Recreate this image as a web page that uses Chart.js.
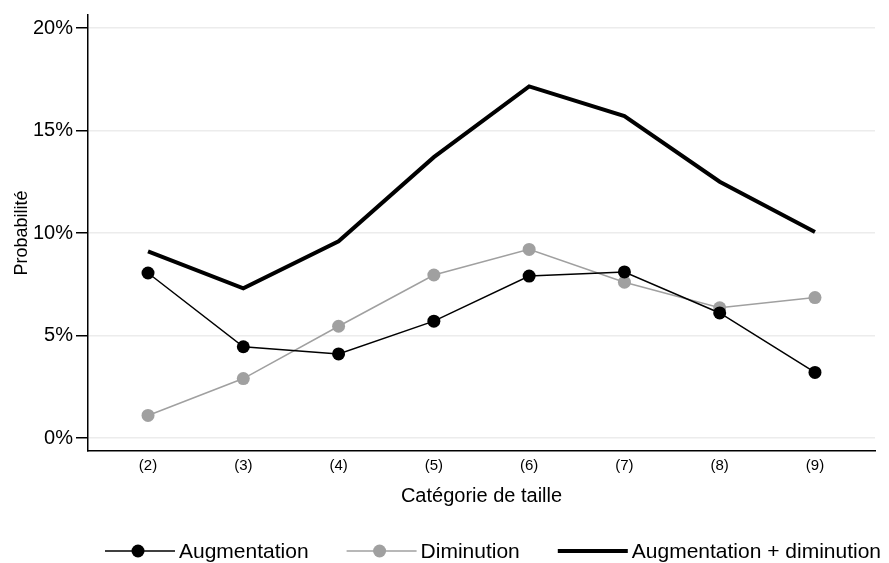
<!DOCTYPE html>
<html>
<head>
<meta charset="utf-8">
<script src="https://cdn.jsdelivr.net/npm/chart.js@4"></script>
<style>
  html, body { margin: 0; padding: 0; background: #fff; }
  #wrap { width: 889px; height: 563px; }
</style>
</head>
<body>
<div id="wrap"><canvas id="chart" width="889" height="563"></canvas></div>
<script>
// size categories (2)..(9)
const categories = [2, 3, 4, 5, 6, 7, 8, 9];
const yTicks = [0, 5, 10, 15, 20];

// probabilities in %
const augmentation = [8.05, 4.45, 4.1, 5.7, 7.9, 8.1, 6.1, 3.2];
const diminution   = [1.1, 2.9, 5.45, 7.95, 9.2, 7.6, 6.35, 6.85];
const total        = [9.1, 7.3, 9.6, 13.7, 17.15, 15.7, 12.5, 10.05];

const FONT = "'Liberation Sans', Arial, sans-serif";

const pts = arr => arr.map((v, i) => ({ x: categories[i], y: v }));

// legend: short line with a dot, then the label
const lineLegend = {
    id: 'lineLegend',
    afterDraw(chart) {
        const ctx = chart.ctx;
        const y = 551;
        let x = 105;
        ctx.save();
        ctx.font = '21px ' + FONT;
        ctx.textBaseline = 'middle';
        chart.data.datasets.forEach(ds => {
            ctx.strokeStyle = ds.borderColor;
            ctx.lineWidth = ds.borderWidth;
            ctx.beginPath();
            ctx.moveTo(x, y);
            ctx.lineTo(x + 70, y);
            ctx.stroke();
            if (ds.pointRadius > 0) {
                ctx.fillStyle = ds.pointBackgroundColor;
                ctx.beginPath();
                ctx.arc(x + 33, y, ds.pointRadius, 0, Math.PI * 2);
                ctx.fill();
            }
            ctx.fillStyle = '#000';
            ctx.fillText(ds.label, x + 74, y + 1);
            x += 74 + ctx.measureText(ds.label).width + 38;
        });
        ctx.restore();
    }
};

new Chart(document.getElementById('chart'), {
    type: 'line',
    data: {
        datasets: [
            {
                label: 'Augmentation',
                data: pts(augmentation),
                borderColor: '#000',
                borderWidth: 1.5,
                pointRadius: 6.5,
                pointBackgroundColor: '#000',
                pointBorderWidth: 0
            },
            {
                label: 'Diminution',
                data: pts(diminution),
                borderColor: '#a0a0a0',
                borderWidth: 1.5,
                pointRadius: 6.5,
                pointBackgroundColor: '#a0a0a0',
                pointBorderWidth: 0
            },
            {
                label: 'Augmentation + diminution',
                data: pts(total),
                borderColor: '#000',
                borderWidth: 4,
                pointRadius: 0
            }
        ]
    },
    options: {
        responsive: false,
        animation: false,
        layout: { padding: { top: 15, right: 14, bottom: 42, left: 0 } },
        plugins: { legend: { display: false }, tooltip: { enabled: false } },
        scales: {
            x: {
                type: 'linear',
                min: 1.37,
                max: 9.63,
                afterBuildTicks: s => { s.ticks = categories.map(v => ({ value: v })); },
                afterFit: s => { s.height = 70; },
                grid: { display: false, drawTicks: false, tickLength: 0 },
                border: { display: true, color: '#000', width: 1.5 },
                ticks: {
                    color: '#000',
                    font: { family: FONT, size: 15 },
                    padding: 6,
                    maxRotation: 0,
                    callback: v => '(' + v + ')'
                },
                title: {
                    display: true,
                    text: 'Catégorie de taille',
                    color: '#000',
                    font: { family: FONT, size: 20 },
                    padding: { top: 4, bottom: 13 }
                }
            },
            y: {
                min: -0.634,
                max: 20.634,
                afterBuildTicks: s => { s.ticks = yTicks.map(v => ({ value: v })); },
                afterFit: s => { s.width = 88; },
                grid: { color: '#ececec', lineWidth: 1.5, tickColor: '#000', tickLength: 12 },
                border: { display: true, color: '#000', width: 1.5 },
                ticks: {
                    color: '#000',
                    font: { family: FONT, size: 20 },
                    padding: 3,
                    callback: v => v + '%'
                },
                title: {
                    display: true,
                    text: 'Probabilité',
                    color: '#000',
                    font: { family: FONT, size: 18 },
                    padding: { top: 11, bottom: 4 }
                }
            }
        }
    },
    plugins: [lineLegend]
});
</script>
</body>
</html>
